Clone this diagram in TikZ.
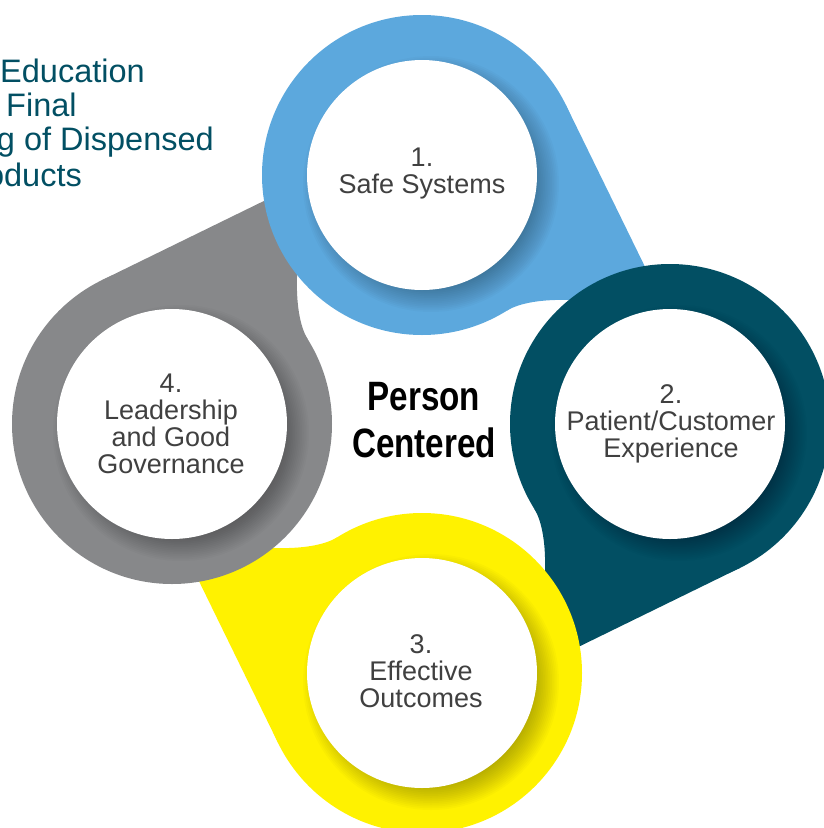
\documentclass[tikz,border=0pt]{standalone}
\usepackage{fontspec}
\setmainfont{Liberation Sans}
\newfontfamily\condfont[FakeStretch=0.81]{Liberation Sans}
\definecolor{pblue}{HTML}{5CA8DD}
\definecolor{pteal}{HTML}{024F63}
\definecolor{pyellow}{HTML}{FFF200}
\definecolor{pgray}{HTML}{87888A}
\definecolor{labelgray}{HTML}{404040}
\tikzset{
  tailpic/.pic={\fill (-26:160) -- (249,145) .. controls (178,120) and (110,120) .. (58:160) -- (0,0) -- cycle;},
  ringpic/.pic={
    \fill (0,0) circle[radius=160];
    \foreach \r in {100,101.75,...,129} \fill[black,opacity=0.021] (9,9) circle[radius=\r];
    \fill[white] (0,0) circle[radius=115];
  },
  lbl/.style={font=\fontsize{27}{27}\selectfont, text=labelgray, align=center, anchor=base, inner sep=0pt},
  tl/.style={font=\fontsize{32.5}{34}\selectfont, text=pteal, inner sep=0pt},
  pc/.style={font=\condfont\bfseries\fontsize{41}{47}\selectfont, text=black, align=center, anchor=base, inner sep=0pt}
}
\begin{document}
\begin{tikzpicture}[x=1pt,y=-1pt]
\useasboundingbox (0,0) rectangle (823,828);
% tails
\pic[pblue] at (422,175) {tailpic};
\pic[pteal, rotate=-90] at (670,424) {tailpic};
\pic[pyellow, rotate=-180] at (422,673) {tailpic};
\pic[pgray, rotate=-270] at (172,424) {tailpic};
% rings
\pic[pblue] at (422,175) {ringpic};
\pic[pteal] at (670,424) {ringpic};
\pic[pyellow] at (422,673) {ringpic};
\pic[pgray] at (172,424) {ringpic};
% labels (anchored at the baseline of the last line)
\node[lbl] (l1) at (422,193) {1.\\Safe Systems};
\node[lbl] (l2) at (671,457) {2.\\Patient/Customer\\Experience};
\node[lbl] (l3) at (421,707) {3.\\Effective\\Outcomes};
\node[lbl] (l4) at (171,473) {4.\\Leadership\\and Good\\Governance};
\node[pc] (pc) at (424,457) {Person\\Centered};
% top-left text (cut by the left edge, as in the reference)
\node[tl, anchor=base west] (t1) at (0,82) {Education};
\node[tl, anchor=base west] (t2) at (6,116) {Final};
\node[tl, anchor=base east] (t3) at (214,150) {g of Dispensed};
\node[tl, anchor=base east] (t4) at (82,186) {oducts};
\end{tikzpicture}
\end{document}
